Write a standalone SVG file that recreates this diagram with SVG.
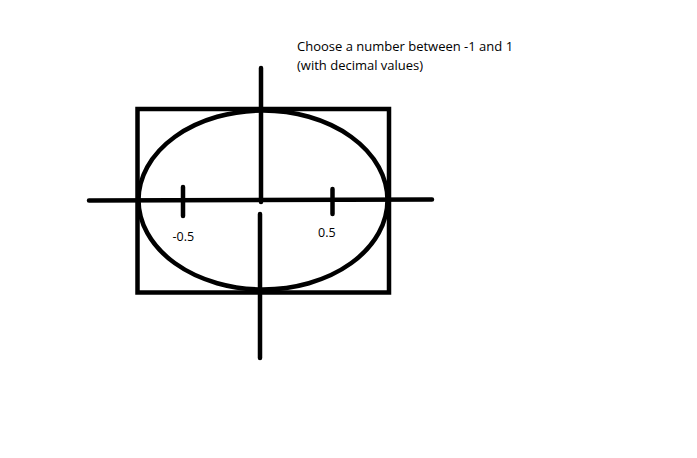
<svg xmlns="http://www.w3.org/2000/svg" width="697" height="458" viewBox="0 0 697 458">
<style>
.s{fill:none;stroke:#000;stroke-linecap:round;stroke-width:4.5}
.t{font-family:"Open Sans","Liberation Sans",sans-serif;fill:#000}
</style>
<rect width="697" height="458" fill="#fff"/>
<g id="box"><rect class="s" x="137.5" y="109" width="251.5" height="183.5" stroke-width="5" stroke-linecap="butt"/></g>
<g id="ellipse"><ellipse class="s" cx="263" cy="200" rx="124.5" ry="89.5" stroke-width="4"/></g>
<g id="connectors">
<line class="s" x1="89" y1="200.5" x2="432" y2="199.5"/>
<line class="s" x1="261" y1="68" x2="261" y2="202"/>
<line class="s" x1="260" y1="214" x2="260" y2="358"/>
<line class="s" x1="183" y1="187" x2="183" y2="216"/>
<line class="s" x1="332.5" y1="189" x2="332.5" y2="214"/>
</g>
<g id="labels">
<text class="t" x="172.5" y="240.5" font-size="12.5">-0.5</text>
<text class="t" x="318" y="236.5" font-size="12.5">0.5</text>
<text class="t" x="297" y="51" font-size="13">Choose a number between -1 and 1</text>
<text class="t" x="297" y="69.5" font-size="13">(with decimal values)</text>
</g>
</svg>
